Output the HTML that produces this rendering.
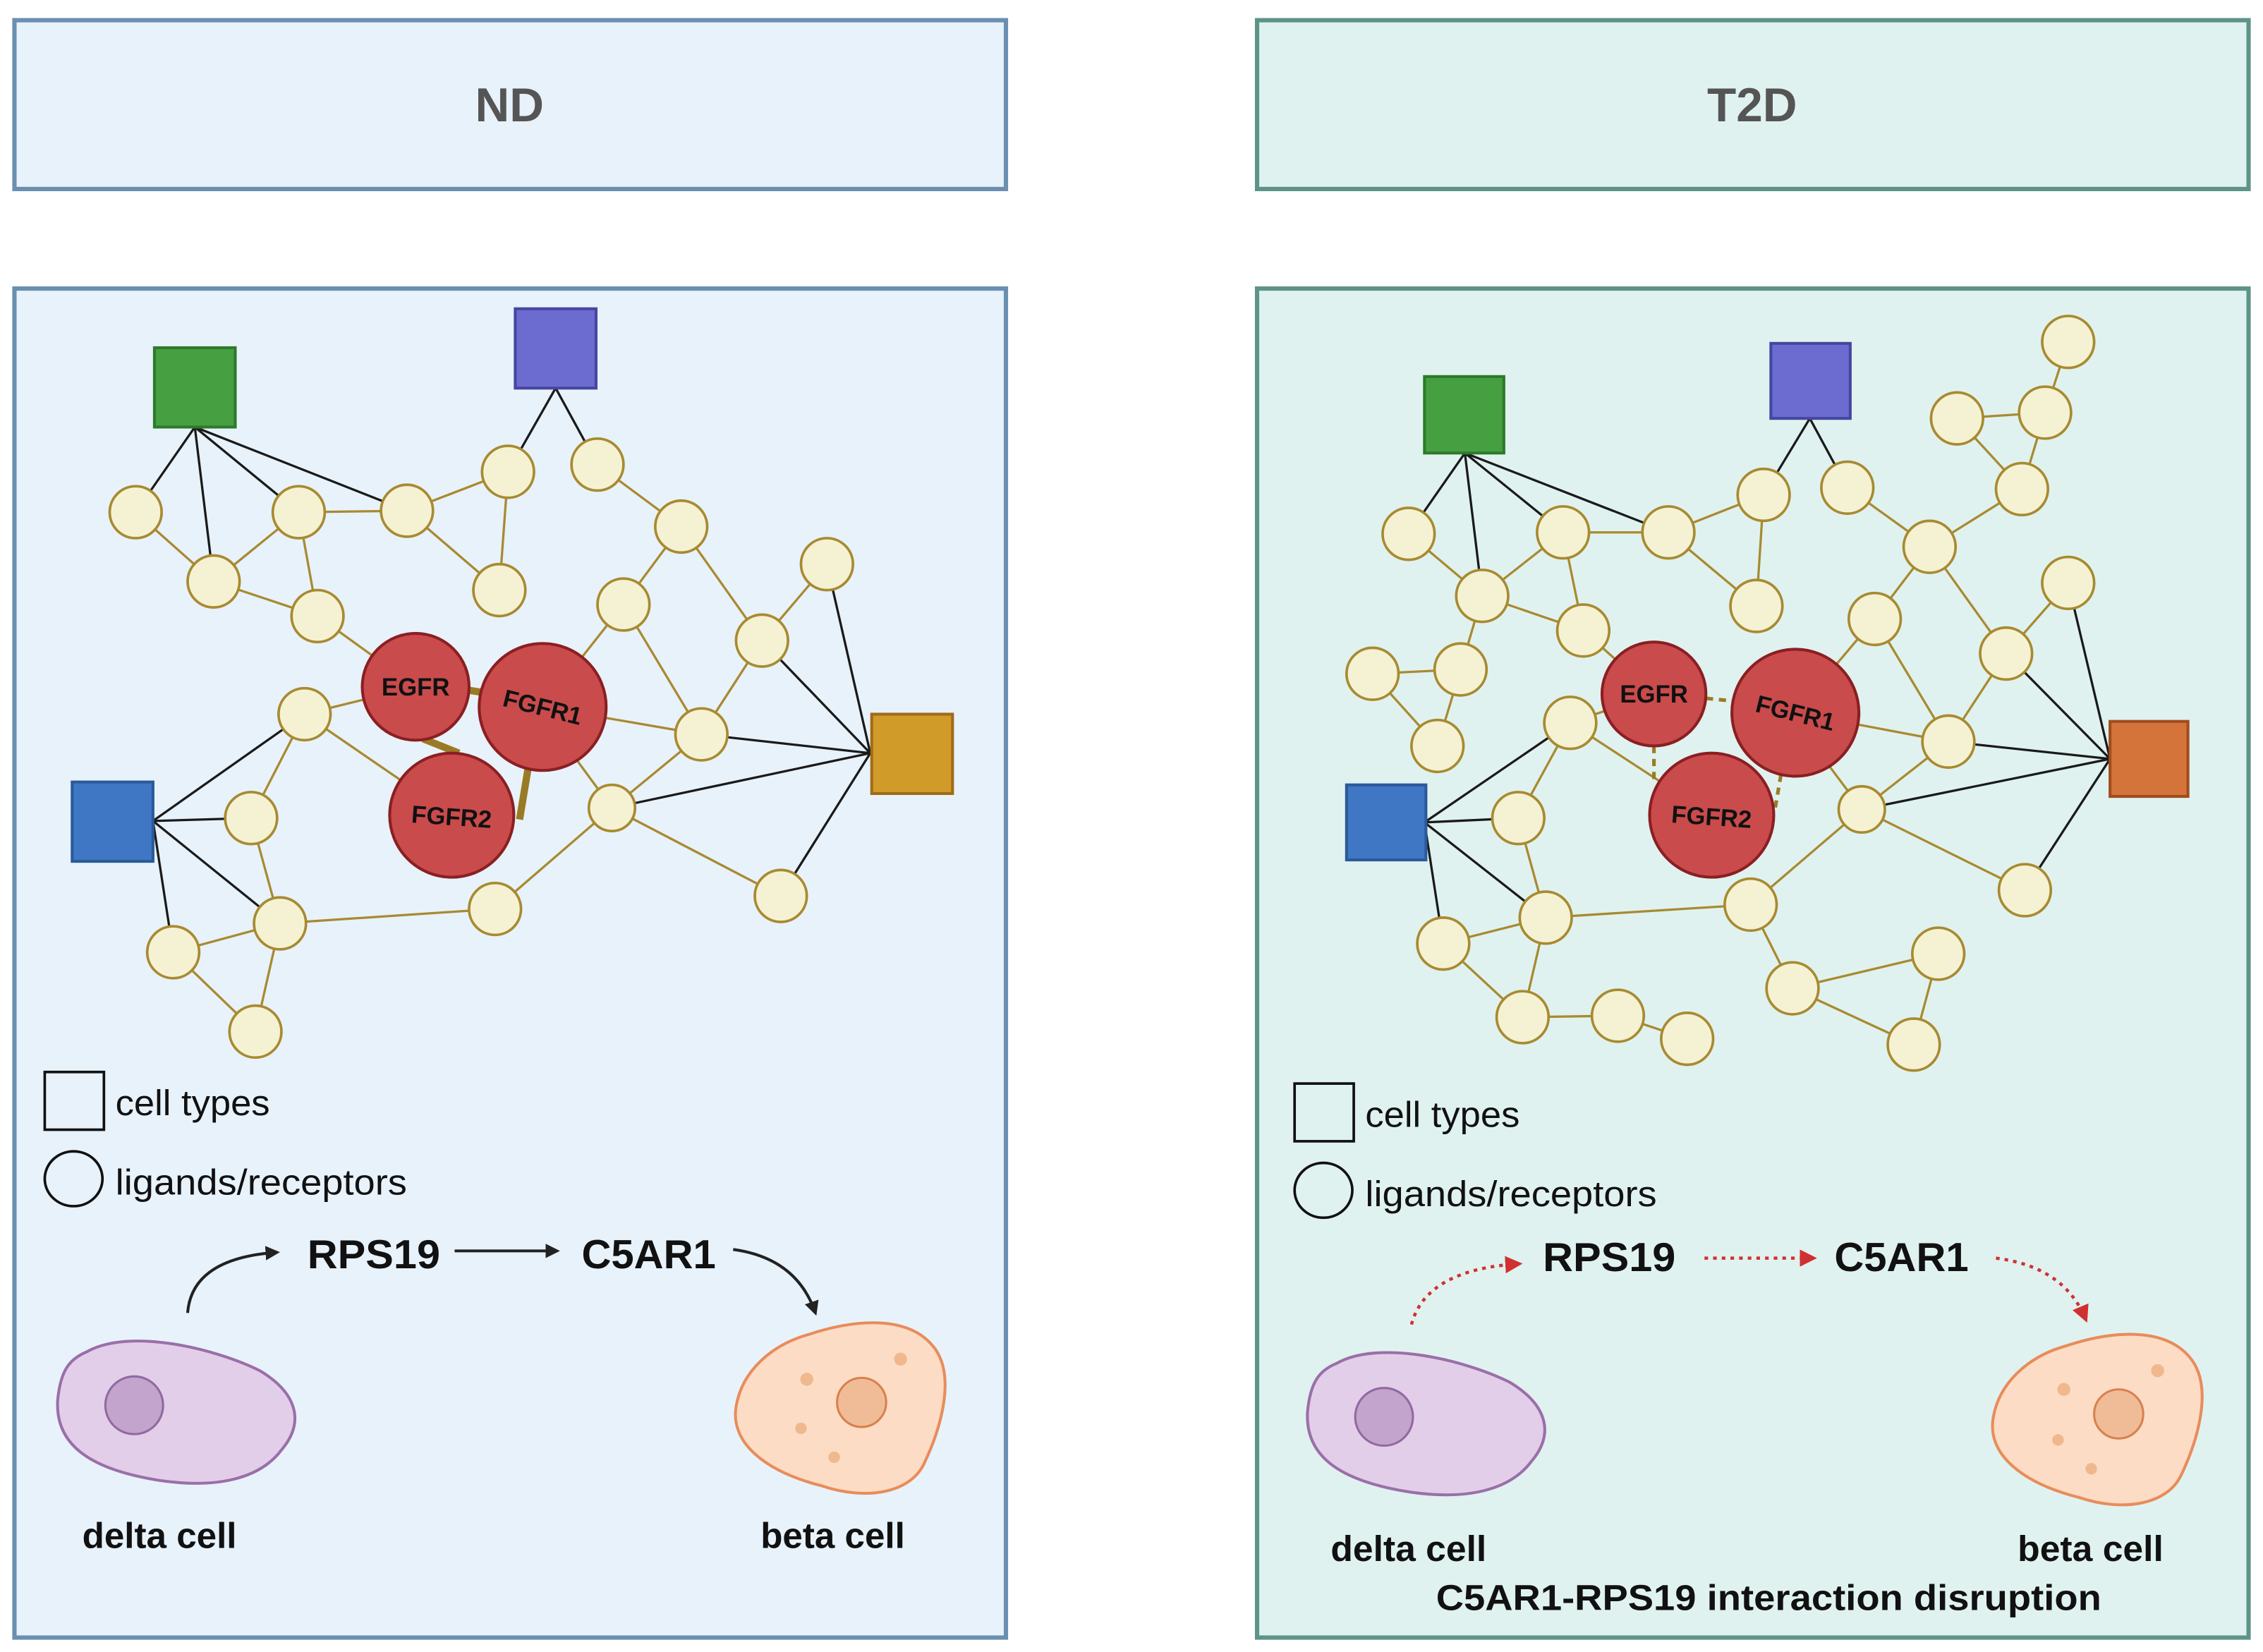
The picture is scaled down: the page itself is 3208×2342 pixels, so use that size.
<!DOCTYPE html>
<html><head><meta charset="utf-8"><style>
html,body{margin:0;padding:0;background:#fff;}
svg{display:block;}
text{font-family:"Liberation Sans",sans-serif;}
</style></head><body>
<svg width="3208" height="2342" viewBox="0 0 1568 1145" preserveAspectRatio="none" xmlns="http://www.w3.org/2000/svg">
<defs>
<marker id="ab" markerWidth="10" markerHeight="10" refX="8" refY="5" orient="auto" markerUnits="userSpaceOnUse"><path d="M0,0 L10,5 L0,10 Z" fill="#222"/></marker>
<marker id="ar" markerWidth="12" markerHeight="12" refX="9" refY="6" orient="auto" markerUnits="userSpaceOnUse"><path d="M0,0 L12,6 L0,12 Z" fill="#d03030"/></marker>
</defs>
<rect width="1568" height="1145" fill="#fff"/>
<rect x="10" y="14" width="687" height="117" fill="#e8f2fb" stroke="#6b8fb0" stroke-width="3"/>
<text x="353" y="84" font-size="33" font-weight="bold" fill="#555" text-anchor="middle">ND</text>
<rect x="871" y="14" width="687" height="117" fill="#e0f2f0" stroke="#5e9488" stroke-width="3"/>
<text x="1214" y="84" font-size="33" font-weight="bold" fill="#555" text-anchor="middle">T2D</text>
<rect x="10" y="200" width="687" height="935" fill="#e8f2fb" stroke="#6b8fb0" stroke-width="3"/>
<rect x="871" y="200" width="687" height="935" fill="#e0f2f0" stroke="#5e9488" stroke-width="3"/>

<!-- LEFT NETWORK -->
<g stroke="#1a1a1a" stroke-width="1.6">
<line x1="135" y1="296" x2="94" y2="355"/><line x1="135" y1="296" x2="148" y2="403"/><line x1="135" y1="296" x2="207" y2="355"/><line x1="135" y1="296" x2="282" y2="354"/>
<line x1="385" y1="269" x2="352" y2="327"/><line x1="385" y1="269" x2="414" y2="322"/>
<line x1="106" y1="569" x2="211" y2="495"/><line x1="106" y1="569" x2="174" y2="567"/><line x1="106" y1="569" x2="194" y2="640"/><line x1="106" y1="569" x2="120" y2="660"/>
<line x1="603" y1="522" x2="573" y2="391"/><line x1="603" y1="522" x2="528" y2="444"/><line x1="603" y1="522" x2="486" y2="509"/><line x1="603" y1="522" x2="424" y2="560"/><line x1="603" y1="522" x2="541" y2="621"/>
</g>
<g stroke="#a88a30" stroke-width="1.6">
<line x1="94" y1="355" x2="148" y2="403"/><line x1="148" y1="403" x2="207" y2="355"/><line x1="207" y1="355" x2="220" y2="427"/><line x1="148" y1="403" x2="220" y2="427"/><line x1="207" y1="355" x2="282" y2="354"/>
<line x1="282" y1="354" x2="352" y2="327"/><line x1="282" y1="354" x2="346" y2="409"/><line x1="352" y1="327" x2="346" y2="409"/>
<line x1="414" y1="322" x2="472" y2="365"/><line x1="472" y1="365" x2="432" y2="419"/><line x1="472" y1="365" x2="528" y2="444"/><line x1="432" y1="419" x2="376" y2="490"/><line x1="432" y1="419" x2="486" y2="509"/>
<line x1="573" y1="391" x2="528" y2="444"/><line x1="528" y1="444" x2="486" y2="509"/><line x1="486" y1="509" x2="376" y2="490"/><line x1="486" y1="509" x2="424" y2="560"/><line x1="424" y1="560" x2="380" y2="500"/><line x1="424" y1="560" x2="541" y2="621"/><line x1="424" y1="560" x2="343" y2="630"/>
<line x1="343" y1="630" x2="194" y2="640"/><line x1="220" y1="427" x2="288" y2="476"/><line x1="211" y1="495" x2="288" y2="476"/><line x1="211" y1="495" x2="313" y2="565"/>
<line x1="211" y1="495" x2="174" y2="567"/><line x1="174" y1="567" x2="194" y2="640"/><line x1="194" y1="640" x2="120" y2="660"/><line x1="194" y1="640" x2="177" y2="715"/><line x1="120" y1="660" x2="177" y2="715"/>
</g>
<g stroke="#9a7b25" stroke-width="5">
<line x1="322" y1="478" x2="335" y2="480"/><line x1="293" y1="512" x2="318" y2="522"/><line x1="366" y1="532" x2="360" y2="568"/>
</g>
<rect x="107" y="241" width="56" height="55" fill="#46a041" stroke="#2d7a2a" stroke-width="2"/>
<rect x="357" y="214" width="56" height="55" fill="#6c6bd0" stroke="#4646a0" stroke-width="2"/>
<rect x="50" y="542" width="56" height="55" fill="#3f77c4" stroke="#2a5a9a" stroke-width="2"/>
<rect x="604" y="495" width="56" height="55" fill="#d09b28" stroke="#a06b18" stroke-width="2"/>
<g fill="#f5f2d4" stroke="#a88a30" stroke-width="1.8">
<circle cx="94" cy="355" r="18"/><circle cx="148" cy="403" r="18"/><circle cx="207" cy="355" r="18"/><circle cx="220" cy="427" r="18"/><circle cx="282" cy="354" r="18"/><circle cx="352" cy="327" r="18"/><circle cx="346" cy="409" r="18"/><circle cx="414" cy="322" r="18"/><circle cx="472" cy="365" r="18"/><circle cx="432" cy="419" r="18"/><circle cx="573" cy="391" r="18"/><circle cx="528" cy="444" r="18"/><circle cx="486" cy="509" r="18"/><circle cx="424" cy="560" r="16"/><circle cx="541" cy="621" r="18"/><circle cx="343" cy="630" r="18"/><circle cx="211" cy="495" r="18"/><circle cx="174" cy="567" r="18"/><circle cx="194" cy="640" r="18"/><circle cx="120" cy="660" r="18"/><circle cx="177" cy="715" r="18"/>
</g>
<g fill="#c94b4b" stroke="#8a1f22" stroke-width="2">
<circle cx="288" cy="476" r="37"/><circle cx="376" cy="490" r="44"/><circle cx="313" cy="565" r="43"/>
</g>
<g font-size="17" font-weight="bold" fill="#111" text-anchor="middle">
<text x="288" y="482">EGFR</text>
<text x="376" y="496" transform="rotate(14 376 490)">FGFR1</text>
<text x="313" y="572" transform="rotate(4 313 565)">FGFR2</text>
</g>

<!-- RIGHT NETWORK -->
<g stroke="#1a1a1a" stroke-width="1.6">
<line x1="1015" y1="314" x2="976" y2="370"/><line x1="1015" y1="314" x2="1027" y2="413"/><line x1="1015" y1="314" x2="1083" y2="369"/><line x1="1015" y1="314" x2="1156" y2="369"/>
<line x1="1254" y1="290" x2="1222" y2="343"/><line x1="1254" y1="290" x2="1280" y2="338"/>
<line x1="987" y1="570" x2="1088" y2="501"/><line x1="987" y1="570" x2="1052" y2="567"/><line x1="987" y1="570" x2="1071" y2="636"/><line x1="987" y1="570" x2="1000" y2="654"/>
<line x1="1462" y1="526" x2="1433" y2="404"/><line x1="1462" y1="526" x2="1390" y2="453"/><line x1="1462" y1="526" x2="1350" y2="514"/><line x1="1462" y1="526" x2="1290" y2="561"/><line x1="1462" y1="526" x2="1403" y2="617"/>
</g>
<g stroke="#a88a30" stroke-width="1.6">
<line x1="976" y1="370" x2="1027" y2="413"/><line x1="1027" y1="413" x2="1083" y2="369"/><line x1="1083" y1="369" x2="1097" y2="437"/><line x1="1027" y1="413" x2="1097" y2="437"/><line x1="1083" y1="369" x2="1156" y2="369"/>
<line x1="1156" y1="369" x2="1222" y2="343"/><line x1="1156" y1="369" x2="1217" y2="420"/><line x1="1222" y1="343" x2="1217" y2="420"/>
<line x1="1280" y1="338" x2="1337" y2="379"/><line x1="1337" y1="379" x2="1299" y2="429"/><line x1="1337" y1="379" x2="1390" y2="453"/><line x1="1299" y1="429" x2="1244" y2="494"/><line x1="1299" y1="429" x2="1350" y2="514"/>
<line x1="1433" y1="404" x2="1390" y2="453"/><line x1="1390" y1="453" x2="1350" y2="514"/><line x1="1350" y1="514" x2="1244" y2="494"/><line x1="1350" y1="514" x2="1290" y2="561"/><line x1="1290" y1="561" x2="1248" y2="505"/><line x1="1290" y1="561" x2="1403" y2="617"/><line x1="1290" y1="561" x2="1213" y2="627"/>
<line x1="1213" y1="627" x2="1071" y2="636"/><line x1="1097" y1="437" x2="1146" y2="481"/><line x1="1088" y1="501" x2="1146" y2="481"/><line x1="1088" y1="501" x2="1186" y2="565"/>
<line x1="1088" y1="501" x2="1052" y2="567"/><line x1="1052" y1="567" x2="1071" y2="636"/><line x1="1071" y1="636" x2="1000" y2="654"/><line x1="1071" y1="636" x2="1055" y2="705"/><line x1="1000" y1="654" x2="1055" y2="705"/>
<line x1="1027" y1="413" x2="1012" y2="464"/><line x1="951" y1="467" x2="1012" y2="464"/><line x1="951" y1="467" x2="996" y2="517"/><line x1="1012" y1="464" x2="996" y2="517"/>
<line x1="1433" y1="237" x2="1417" y2="286"/><line x1="1417" y1="286" x2="1356" y2="290"/><line x1="1356" y1="290" x2="1401" y2="339"/><line x1="1417" y1="286" x2="1401" y2="339"/><line x1="1401" y1="339" x2="1337" y2="379"/>
<line x1="1055" y1="705" x2="1121" y2="704"/><line x1="1121" y1="704" x2="1169" y2="720"/><line x1="1213" y1="627" x2="1242" y2="685"/><line x1="1242" y1="685" x2="1343" y2="661"/><line x1="1242" y1="685" x2="1326" y2="724"/><line x1="1343" y1="661" x2="1326" y2="724"/>
</g>
<g stroke="#9a7b25" stroke-width="2.5" stroke-dasharray="5,4">
<line x1="1182" y1="484" x2="1202" y2="486"/><line x1="1146" y1="517" x2="1146" y2="540"/><line x1="1234" y1="537" x2="1230" y2="560"/>
</g>
<rect x="987" y="261" width="55" height="53" fill="#46a041" stroke="#2d7a2a" stroke-width="2"/>
<rect x="1227" y="238" width="55" height="52" fill="#6c6bd0" stroke="#4646a0" stroke-width="2"/>
<rect x="933" y="544" width="55" height="52" fill="#3f77c4" stroke="#2a5a9a" stroke-width="2"/>
<rect x="1462" y="500" width="54" height="52" fill="#d4743a" stroke="#a04c1e" stroke-width="2"/>
<g fill="#f5f2d4" stroke="#a88a30" stroke-width="1.8">
<circle cx="976" cy="370" r="18"/><circle cx="1027" cy="413" r="18"/><circle cx="1083" cy="369" r="18"/><circle cx="1097" cy="437" r="18"/><circle cx="1156" cy="369" r="18"/><circle cx="1222" cy="343" r="18"/><circle cx="1217" cy="420" r="18"/><circle cx="1280" cy="338" r="18"/><circle cx="1337" cy="379" r="18"/><circle cx="1299" cy="429" r="18"/><circle cx="1433" cy="404" r="18"/><circle cx="1390" cy="453" r="18"/><circle cx="1350" cy="514" r="18"/><circle cx="1290" cy="561" r="16"/><circle cx="1403" cy="617" r="18"/><circle cx="1213" cy="627" r="18"/><circle cx="1088" cy="501" r="18"/><circle cx="1052" cy="567" r="18"/><circle cx="1071" cy="636" r="18"/><circle cx="1000" cy="654" r="18"/><circle cx="1055" cy="705" r="18"/>
<circle cx="951" cy="467" r="18"/><circle cx="1012" cy="464" r="18"/><circle cx="996" cy="517" r="18"/>
<circle cx="1433" cy="237" r="18"/><circle cx="1417" cy="286" r="18"/><circle cx="1356" cy="290" r="18"/><circle cx="1401" cy="339" r="18"/>
<circle cx="1121" cy="704" r="18"/><circle cx="1169" cy="720" r="18"/><circle cx="1242" cy="685" r="18"/><circle cx="1343" cy="661" r="18"/><circle cx="1326" cy="724" r="18"/>
</g>
<g fill="#c94b4b" stroke="#8a1f22" stroke-width="2">
<circle cx="1146" cy="481" r="36"/><circle cx="1244" cy="494" r="44"/><circle cx="1186" cy="565" r="43"/>
</g>
<g font-size="17" font-weight="bold" fill="#111" text-anchor="middle">
<text x="1146" y="487">EGFR</text>
<text x="1244" y="500" transform="rotate(14 1244 494)">FGFR1</text>
<text x="1186" y="572" transform="rotate(4 1186 565)">FGFR2</text>
</g>

<!-- LEGENDS -->
<rect x="31" y="743" width="41" height="40" fill="none" stroke="#111" stroke-width="1.8"/>
<text x="80" y="773" font-size="25" fill="#111" textLength="107" lengthAdjust="spacingAndGlyphs">cell types</text>
<ellipse cx="51" cy="817" rx="20" ry="19" fill="none" stroke="#111" stroke-width="1.8"/>
<text x="80" y="828" font-size="25" fill="#111" textLength="202" lengthAdjust="spacingAndGlyphs">ligands/receptors</text>
<rect x="897" y="751" width="41" height="40" fill="none" stroke="#111" stroke-width="1.8"/>
<text x="946" y="781" font-size="25" fill="#111" textLength="107" lengthAdjust="spacingAndGlyphs">cell types</text>
<ellipse cx="917" cy="825" rx="20" ry="19" fill="none" stroke="#111" stroke-width="1.8"/>
<text x="946" y="836" font-size="25" fill="#111" textLength="202" lengthAdjust="spacingAndGlyphs">ligands/receptors</text>

<!-- LEFT PATHWAY -->
<g font-size="28" font-weight="bold" fill="#111">
<text x="213" y="879" textLength="92" lengthAdjust="spacingAndGlyphs">RPS19</text><text x="403" y="879" textLength="93" lengthAdjust="spacingAndGlyphs">C5AR1</text>
</g>
<g fill="none" stroke="#222" stroke-width="2">
<path d="M130,910 Q133,872 192,868" marker-end="url(#ab)"/>
<path d="M315,867 L386,867" marker-end="url(#ab)"/>
<path d="M508,866 Q552,872 565,910" marker-end="url(#ab)"/>
</g>
<path d="M60,937 C90,920 150,935 180,950 C205,965 212,985 195,1005 C180,1025 150,1032 110,1026 C60,1018 38,1000 40,970 C42,950 48,942 60,937 Z" fill="#e3cee9" stroke="#9a6fa8" stroke-width="2"/>
<circle cx="93" cy="974" r="20" fill="#c3a4cc" stroke="#8f6aa0" stroke-width="1.5"/>
<path d="M560,925 C590,915 630,910 648,935 C662,955 652,990 640,1015 C630,1035 600,1040 570,1030 C530,1020 506,1000 510,975 C514,950 535,932 560,925 Z" fill="#fcdcc4" stroke="#e88c5b" stroke-width="2"/>
<circle cx="597" cy="972" r="17" fill="#f0bc98" stroke="#d9804e" stroke-width="1.5"/>
<g fill="#f0b88e"><circle cx="559" cy="956" r="4.5"/><circle cx="624" cy="942" r="4.5"/><circle cx="555" cy="990" r="4"/><circle cx="578" cy="1010" r="4"/></g>
<g font-size="25" font-weight="bold" fill="#111">
<text x="57" y="1073" textLength="107" lengthAdjust="spacingAndGlyphs">delta cell</text><text x="527" y="1073" textLength="100" lengthAdjust="spacingAndGlyphs">beta cell</text>
</g>

<!-- RIGHT PATHWAY -->
<g font-size="28" font-weight="bold" fill="#111">
<text x="1069" y="881" textLength="92" lengthAdjust="spacingAndGlyphs">RPS19</text><text x="1271" y="881" textLength="93" lengthAdjust="spacingAndGlyphs">C5AR1</text>
</g>
<g fill="none" stroke="#d03030" stroke-width="2.2" stroke-dasharray="2.5,3.5">
<path d="M978,918 Q988,880 1052,876" marker-end="url(#ar)"/>
<path d="M1181,872 L1256,872" marker-end="url(#ar)"/>
<path d="M1383,872 Q1430,878 1445,914" marker-end="url(#ar)"/>
</g>
<path d="M926,945 C956,928 1016,943 1046,958 C1071,973 1078,993 1061,1013 C1046,1033 1016,1040 976,1034 C926,1026 904,1008 906,978 C908,958 914,950 926,945 Z" fill="#e3cee9" stroke="#9a6fa8" stroke-width="2"/>
<circle cx="959" cy="982" r="20" fill="#c3a4cc" stroke="#8f6aa0" stroke-width="1.5"/>
<path d="M1431,933 C1461,923 1501,918 1519,943 C1533,963 1523,998 1511,1023 C1501,1043 1471,1048 1441,1038 C1401,1028 1377,1008 1381,983 C1385,958 1406,940 1431,933 Z" fill="#fcdcc4" stroke="#e88c5b" stroke-width="2"/>
<circle cx="1468" cy="980" r="17" fill="#f0bc98" stroke="#d9804e" stroke-width="1.5"/>
<g fill="#f0b88e"><circle cx="1430" cy="963" r="4.5"/><circle cx="1495" cy="950" r="4.5"/><circle cx="1426" cy="998" r="4"/><circle cx="1449" cy="1018" r="4"/></g>
<g font-size="25" font-weight="bold" fill="#111">
<text x="922" y="1082" textLength="108" lengthAdjust="spacingAndGlyphs">delta cell</text><text x="1398" y="1082" textLength="101" lengthAdjust="spacingAndGlyphs">beta cell</text>
<text x="995" y="1116" textLength="461" lengthAdjust="spacingAndGlyphs">C5AR1-RPS19 interaction disruption</text>
</g>
</svg>
</body></html>
